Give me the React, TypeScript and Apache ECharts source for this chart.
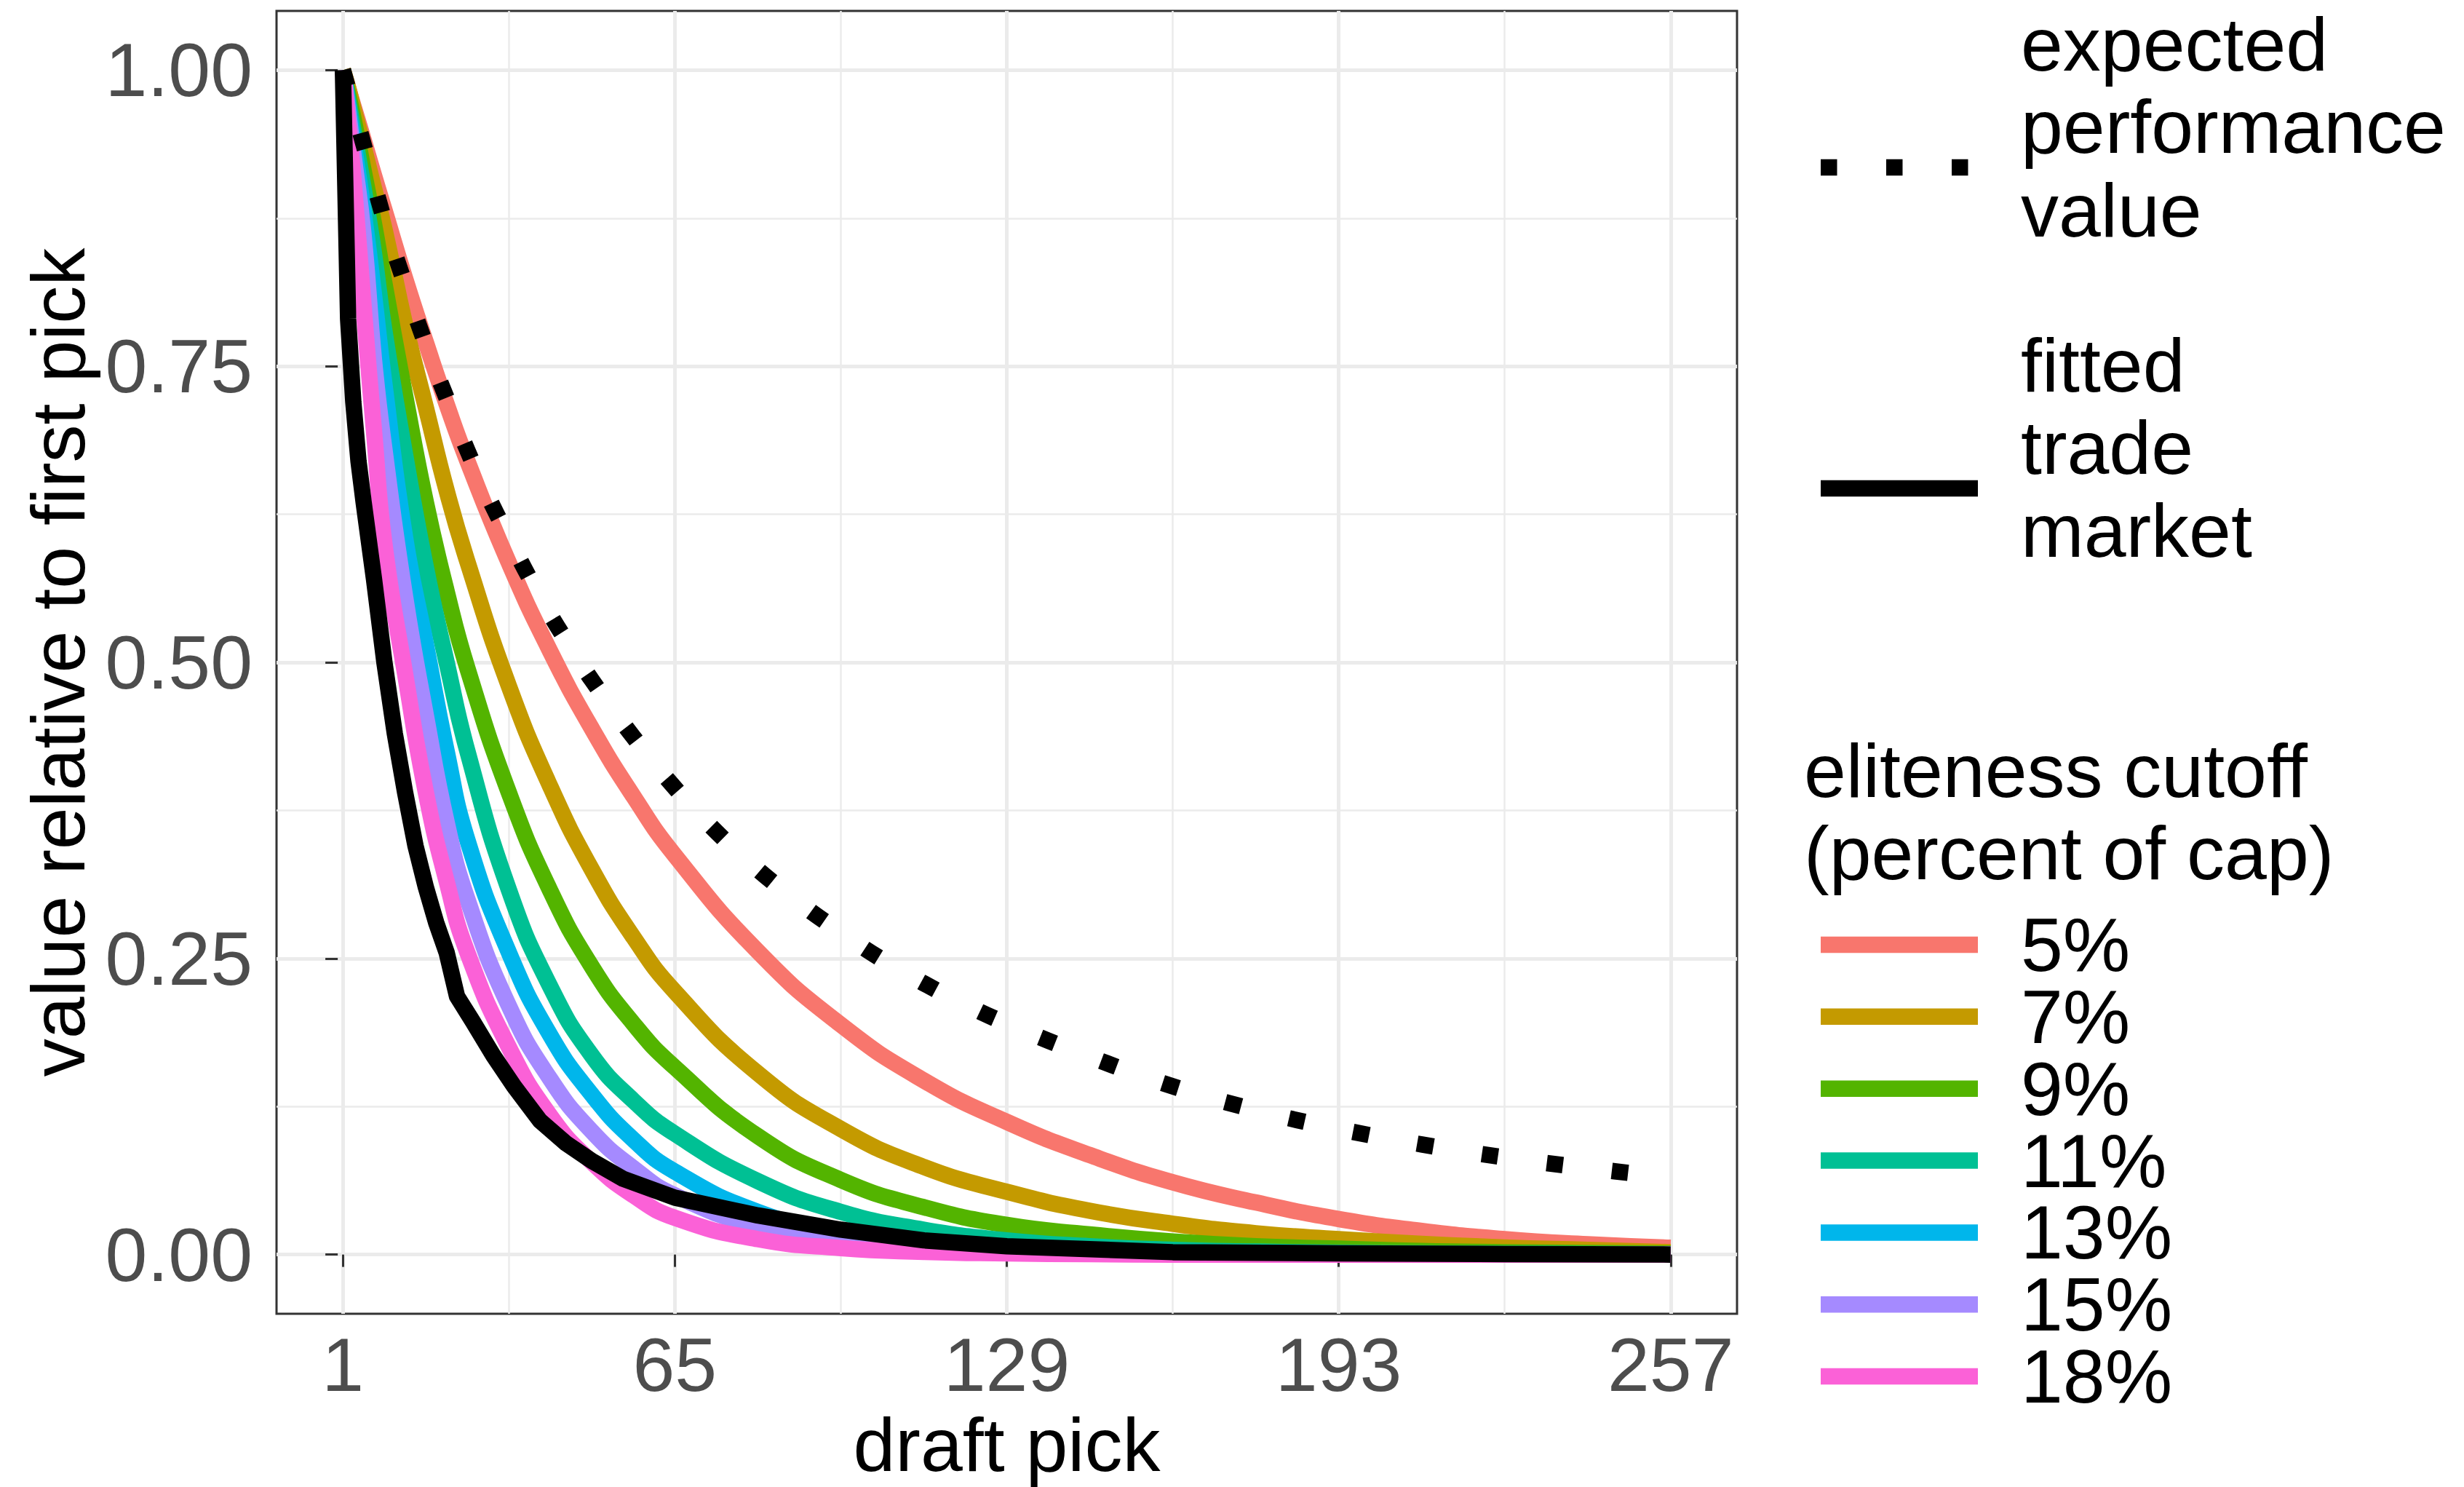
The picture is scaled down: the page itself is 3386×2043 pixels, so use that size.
import React, { useEffect, useRef } from "react";
import * as echarts from "echarts";

// ---------- data ----------
const cutoffLabels = ["5%", "7%", "9%", "11%", "13%", "15%", "18%"];
const cutoffColors = ["#F8766D", "#C49A00", "#53B400", "#00C094", "#00B6EB", "#A58AFF", "#FB61D7"];

const curvePicks = [1, 2, 3, 5, 7, 9, 13, 17, 21, 25, 33, 41, 49, 57, 65, 81, 97, 113, 129, 145, 161, 177, 193, 209, 225, 241, 257];

const cutoff5 = [1, 0.985, 0.97, 0.941, 0.911, 0.882, 0.824, 0.77, 0.718, 0.67, 0.584, 0.509, 0.444, 0.387, 0.337, 0.256, 0.194, 0.147, 0.112, 0.084, 0.061, 0.044, 0.03, 0.02, 0.013, 0.0087, 0.0058];
const cutoff7 = [1, 0.985, 0.968, 0.935, 0.9, 0.866, 0.785, 0.715, 0.645, 0.585, 0.48, 0.395, 0.325, 0.268, 0.222, 0.153, 0.106, 0.074, 0.053, 0.037, 0.026, 0.018, 0.013, 0.009, 0.006, 0.004, 0.002];
const cutoff9 = [1, 0.98, 0.96, 0.915, 0.87, 0.82, 0.725, 0.635, 0.56, 0.495, 0.39, 0.307, 0.243, 0.195, 0.158, 0.1, 0.063, 0.04, 0.025, 0.017, 0.011, 0.007, 0.005, 0.003, 0.002, 0.0013, 0.0008];
const cutoff11 = [1, 0.975, 0.95, 0.9, 0.845, 0.78, 0.675, 0.58, 0.5, 0.425, 0.308, 0.226, 0.168, 0.13, 0.102, 0.062, 0.036, 0.021, 0.012, 0.007, 0.004, 0.0025, 0.0015, 0.001, 0.0006, 0.0004, 0.0002];
const cutoff13 = [1, 0.97, 0.94, 0.88, 0.81, 0.735, 0.605, 0.515, 0.425, 0.35, 0.255, 0.185, 0.135, 0.097, 0.07, 0.036, 0.018, 0.009, 0.0045, 0.0022, 0.0011, 0.0005, 0.0003, 0.0001, 0, 0, 0];
const cutoff15 = [1, 0.965, 0.93, 0.86, 0.755, 0.68, 0.555, 0.455, 0.365, 0.3, 0.21, 0.148, 0.104, 0.073, 0.05, 0.024, 0.011, 0.005, 0.0023, 0.001, 0.0005, 0, 0, 0, 0, 0, 0];
const cutoff18 = [1, 0.955, 0.91, 0.8, 0.695, 0.6, 0.49, 0.39, 0.315, 0.255, 0.175, 0.117, 0.078, 0.05, 0.031, 0.013, 0.0055, 0.0023, 0.001, 0.0004, 0, 0, 0, 0, 0, 0, 0];
const cutoffValues = [cutoff5, cutoff7, cutoff9, cutoff11, cutoff13, cutoff15, cutoff18];

const marketPicks = [1, 2, 3, 4, 5, 7, 9, 11, 13, 15, 17, 19, 21, 23, 26, 30, 34, 39, 44, 49, 55, 65, 81, 97, 113, 129, 161, 193, 225, 257];
const marketValues = [1, 0.79, 0.72, 0.67, 0.635, 0.57, 0.5, 0.44, 0.39, 0.345, 0.31, 0.28, 0.255, 0.218, 0.197, 0.168, 0.142, 0.113, 0.094, 0.079, 0.064, 0.048, 0.033, 0.021, 0.012, 0.007, 0.002, 0.001, 0.0004, 0];

const evPicks = [1, 5, 9, 13, 17, 21, 25, 29, 33, 37, 41, 45, 49, 57, 65, 73, 81, 89, 97, 105, 113, 121, 129, 145, 161, 177, 193, 209, 225, 241, 257];
const evValues = [1, 0.937, 0.873, 0.819, 0.768, 0.723, 0.679, 0.64, 0.605, 0.571, 0.54, 0.512, 0.485, 0.437, 0.394, 0.357, 0.325, 0.297, 0.272, 0.249, 0.229, 0.211, 0.195, 0.167, 0.142, 0.122, 0.106, 0.093, 0.082, 0.073, 0.065];

const xMajorTicks = [1, 65, 129, 193, 257];
const xMinorTicks = [33, 97, 161, 225];
const yMajorTicks = [0, 0.25, 0.5, 0.75, 1];
const yMinorTicks = [0.125, 0.375, 0.625, 0.875];

const evLabelLines = ["expected", "performance", "value"];
const marketLabelLines = ["fitted", "trade", "market"];
const cutoffTitleLines = ["eliteness cutoff", "(percent of cap)"];

// ---------- layout / style ----------
const W = 3386;
const H = 2043;
const FONT = "'Liberation Sans', Arial, Helvetica, sans-serif";
const FS = 104;
const LW = 22.5;
const GRID = { left: 380, top: 15, width: 2007, height: 1790 };
const KEY_X1 = 2502;
const KEY_X2 = 2718;
const TEXT_X = 2777;

function pairs(xs: number[], ys: number[]) {
  return xs.map((x, i) => [x, ys[i]]);
}

function txt(text: string, x: number, y: number, extra: any = {}) {
  return {
    type: "text",
    x,
    y,
    ...extra,
    style: {
      text,
      fontSize: FS,
      fontFamily: FONT,
      fill: "#000000",
      align: "left",
      verticalAlign: "middle",
      lineHeight: 96,
      ...(extra.style || {}),
    },
  };
}

export default function App() {
  const ref = useRef<HTMLDivElement>(null);

  useEffect(() => {
    document.body.style.margin = "0";
    if (!ref.current) return;
    const chart = echarts.init(ref.current, null, { renderer: "svg", width: W, height: H });

    const series: any[] = cutoffLabels.map((name, i) => ({
      name,
      type: "line",
      xAxisIndex: 0,
      yAxisIndex: 0,
      data: pairs(curvePicks, cutoffValues[i]),
      showSymbol: false,
      symbol: "none",
      smooth: 0.5,
      lineStyle: { color: cutoffColors[i], width: LW, cap: "butt", join: "round" },
      itemStyle: { color: cutoffColors[i] },
      z: 3 + i * 0.01,
    }));
    series.push({
      name: "fitted trade market",
      type: "line",
      xAxisIndex: 0,
      yAxisIndex: 0,
      data: pairs(marketPicks, marketValues),
      showSymbol: false,
      symbol: "none",
      smooth: false,
      lineStyle: { color: "#000000", width: LW, cap: "butt", join: "round" },
      z: 4,
    });
    series.push({
      name: "expected performance value",
      type: "line",
      xAxisIndex: 0,
      yAxisIndex: 0,
      data: pairs(evPicks, evValues),
      showSymbol: false,
      symbol: "none",
      smooth: 0.4,
      lineStyle: { color: "#000000", width: LW, type: [LW, LW * 3], cap: "butt", join: "round" },
      z: 5,
    });

    const graphic: any[] = [];
    // axis titles
    graphic.push(txt("draft pick", GRID.left + GRID.width / 2, 1985, { style: { align: "center" } }));
    graphic.push(
      txt("value relative to first pick", 80, GRID.top + GRID.height / 2, {
        rotation: Math.PI / 2,
        style: { align: "center" },
      })
    );
    // legend: expected performance value
    graphic.push({
      type: "line",
      shape: { x1: KEY_X1, y1: 230, x2: KEY_X2, y2: 230 },
      style: { stroke: "#000000", lineWidth: LW, lineDash: [LW, LW * 3], lineCap: "butt" },
    });
    const evY = [61, 174, 289];
    evLabelLines.forEach((t, i) => graphic.push(txt(t, TEXT_X, evY[i])));
    // legend: fitted trade market
    graphic.push({
      type: "line",
      shape: { x1: KEY_X1, y1: 671, x2: KEY_X2, y2: 671 },
      style: { stroke: "#000000", lineWidth: LW, lineCap: "butt" },
    });
    const mkY = [502, 615, 729];
    marketLabelLines.forEach((t, i) => graphic.push(txt(t, TEXT_X, mkY[i])));
    // legend: eliteness cutoff
    const ttlY = [1059, 1172];
    cutoffTitleLines.forEach((t, i) => graphic.push(txt(t, 2479, ttlY[i])));
    cutoffLabels.forEach((lab, i) => {
      const y = 1298 + i * 98.85;
      graphic.push({
        type: "line",
        shape: { x1: KEY_X1, y1: y, x2: KEY_X2, y2: y },
        style: { stroke: cutoffColors[i], lineWidth: LW, lineCap: "butt" },
      });
      graphic.push(txt(lab, TEXT_X, y));
    });

    const gridLine = { color: "#EBEBEB", width: 5 };
    const minorLine = { color: "#EBEBEB", width: 2.5 };

    chart.setOption({
      animation: false,
      backgroundColor: "#FFFFFF",
      textStyle: { fontFamily: FONT },
      grid: {
        ...GRID,
        show: true,
        borderColor: "#333333",
        borderWidth: 3,
        backgroundColor: "transparent",
        containLabel: false,
      },
      xAxis: [
        {
          type: "value",
          min: -11.8,
          max: 269.8,
          position: "bottom",
          axisLine: { show: false },
          axisTick: { show: true, customValues: xMajorTicks, length: 17, lineStyle: { color: "#333333", width: 3 } },
          axisLabel: {
            show: true,
            customValues: xMajorTicks,
            margin: 18,
            color: "#4D4D4D",
            fontSize: FS,
            fontFamily: FONT,
            formatter: (v: number) => String(Math.round(v)),
          },
          splitLine: { show: true, lineStyle: gridLine },
        },
        {
          type: "value",
          min: -11.8,
          max: 269.8,
          position: "bottom",
          axisLine: { show: false },
          axisTick: { show: false, customValues: xMinorTicks },
          axisLabel: { show: false, customValues: xMinorTicks },
          splitLine: { show: true, lineStyle: minorLine },
        },
      ],
      yAxis: [
        {
          type: "value",
          min: -0.05,
          max: 1.05,
          position: "left",
          axisLine: { show: false },
          axisTick: { show: true, customValues: yMajorTicks, length: 17, lineStyle: { color: "#333333", width: 3 } },
          axisLabel: {
            show: true,
            customValues: yMajorTicks,
            margin: 33,
            color: "#4D4D4D",
            fontSize: FS,
            fontFamily: FONT,
            formatter: (v: number) => v.toFixed(2),
          },
          splitLine: { show: true, lineStyle: gridLine },
        },
        {
          type: "value",
          min: -0.05,
          max: 1.05,
          position: "left",
          axisLine: { show: false },
          axisTick: { show: false, customValues: yMinorTicks },
          axisLabel: { show: false, customValues: yMinorTicks },
          splitLine: { show: true, lineStyle: minorLine },
        },
      ],
      series,
      graphic,
    });

    return () => {
      chart.dispose();
    };
  }, []);

  return (
    <div
      ref={ref}
      style={{ position: "fixed", left: 0, top: 0, width: W, height: H, background: "#FFFFFF" }}
    />
  );
}
